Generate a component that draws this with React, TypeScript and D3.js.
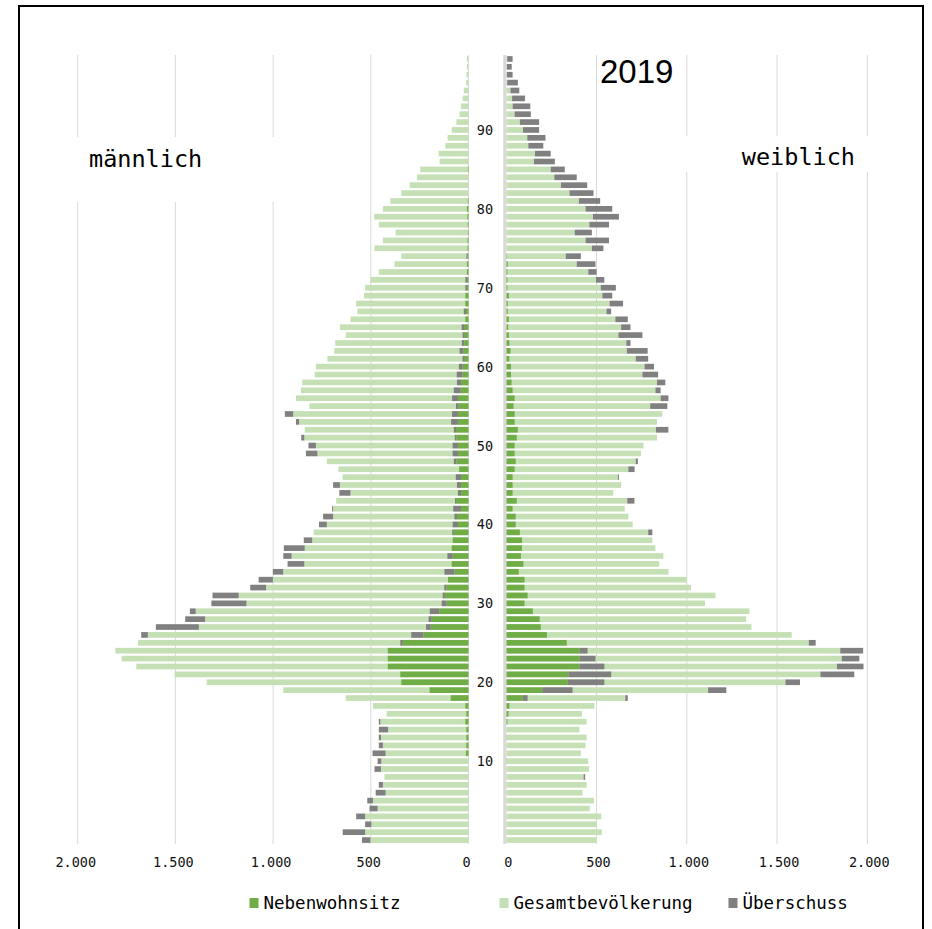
import React from 'react';
import * as d3 from 'd3';

// ages 0..99
const ages = d3.range(0, 100);

// männlich
const maleGesamt = [
  502, 529, 497, 529, 465, 489, 424, 438, 430, 448,
  446, 424, 438, 448, 411, 451, 419, 489, 628, 948,
  1340, 1504, 1700, 1775, 1807, 1692, 1641, 1380, 1348, 1396,
  1136, 1176, 1036, 1001, 948, 840, 905, 838, 800, 792,
  725, 693, 693, 677, 604, 658, 644, 666, 725, 773,
  781, 840, 838, 867, 897, 814, 883, 857, 851, 787,
  781, 722, 687, 682, 628, 658, 604, 569, 575, 534,
  529, 502, 459, 379, 344, 481, 438, 373, 459, 483,
  438, 400, 344, 301, 263, 247, 148, 153, 118, 107,
  86, 62, 46, 38, 30, 24, 12, 10, 8, 8,
];
const maleUeber = [
  43, 115, 32, 46, 42, 29, 51, 21, 0, 33,
  19, 67, 21, 11, 48, 8, 0, 0, 0, 0,
  0, 0, 0, 0, 0, 0, 34, 220, 102, 30,
  180, 134, 81, 73, 53, 86, 43, 107, 43, 0,
  40, 51, 5, 0, 57, 35, 0, 0, 0, 59,
  38, 16, 0, 16, 43, 0, 0, 0, 0, 0,
  0, 0, 0, 0, 0, 0, 0, 0, 0, 0,
  0, 0, 0, 0, 0, 0, 0, 0, 0, 0,
  0, 0, 0, 0, 0, 0, 0, 0, 0, 0,
  0, 0, 0, 0, 0, 0, 0, 0, 0, 0,
];
const maleNeben = [
  0, 0, 0, 0, 0, 0, 0, 0, 0, 0,
  0, 13, 11, 11, 11, 16, 11, 16, 91, 199,
  344, 349, 413, 413, 413, 336, 231, 193, 188, 150,
  113, 121, 113, 105, 72, 86, 81, 86, 81, 75,
  54, 59, 38, 64, 38, 38, 38, 48, 62, 54,
  54, 62, 64, 54, 54, 51, 54, 40, 38, 30,
  30, 19, 27, 21, 19, 19, 16, 13, 16, 16,
  8, 8, 8, 8, 5, 5, 5, 3, 4, 6,
  8, 3, 0, 0, 0, 3, 0, 0, 0, 0,
  0, 0, 0, 0, 0, 0, 0, 0, 0, 0,
];
const maleNebenUeber = [
  0, 0, 0, 0, 0, 0, 0, 0, 0, 0,
  0, 0, 0, 0, 0, 0, 0, 0, 0, 0,
  0, 0, 0, 0, 0, 13, 62, 24, 16, 48,
  24, 11, 11, 0, 51, 0, 27, 0, 0, 8,
  27, 13, 40, 5, 16, 21, 27, 0, 13, 27,
  27, 8, 11, 35, 30, 13, 30, 35, 21, 30,
  19, 11, 19, 13, 11, 16, 0, 11, 0, 0,
  8, 8, 0, 0, 5, 0, 0, 0, 0, 0,
  0, 0, 0, 0, 0, 0, 0, 0, 0, 0,
  0, 0, 0, 0, 0, 0, 0, 0, 0, 0,
];

// weiblich
const femaleGesamt = [
  500, 529, 500, 526, 462, 486, 422, 445, 428, 459,
  454, 413, 439, 445, 405, 445, 419, 488, 659, 1118,
  1546, 1740, 1832, 1858, 1850, 1676, 1581, 1358, 1329, 1347,
  1101, 1159, 1023, 1000, 899, 847, 870, 826, 809, 786,
  700, 676, 656, 670, 592, 636, 618, 676, 717, 746,
  760, 835, 829, 835, 864, 797, 855, 826, 835, 754,
  766, 717, 668, 665, 621, 636, 604, 555, 572, 532,
  523, 497, 454, 390, 329, 474, 439, 379, 460, 480,
  439, 402, 350, 303, 266, 246, 153, 159, 122, 116,
  92, 75, 46, 35, 32, 23, 5, 3, 3, 5,
];
const femaleUeber = [
  0, 0, 0, 0, 0, 0, 0, 0, 9, 0,
  0, 0, 0, 0, 0, 0, 0, 0, 14, 101,
  81, 188, 147, 98, 127, 38, 0, 0, 0, 0,
  0, 0, 0, 0, 0, 0, 0, 0, 0, 23,
  0, 0, 0, 40, 0, 0, 6, 35, 12, 0,
  0, 0, 69, 0, 0, 95, 43, 29, 46, 87,
  52, 69, 115, 23, 133, 52, 69, 26, 75, 55,
  84, 46, 46, 104, 84, 64, 130, 95, 109, 144,
  148, 118, 133, 145, 124, 78, 116, 87, 83, 101,
  90, 107, 90, 98, 72, 49, 59, 32, 27, 30,
];
const femaleNeben = [
  0, 0, 0, 0, 0, 0, 0, 0, 0, 0,
  2, 0, 0, 2, 0, 6, 12, 17, 92, 199,
  341, 344, 407, 407, 407, 335, 225, 191, 185, 147,
  101, 118, 101, 101, 69, 95, 81, 87, 87, 75,
  52, 52, 35, 58, 35, 35, 35, 46, 52, 46,
  46, 58, 64, 46, 46, 40, 46, 35, 29, 26,
  26, 17, 23, 17, 14, 10, 14, 8, 8, 14,
  6, 6, 6, 8, 3, 0, 0, 0, 0, 0,
  0, 0, 0, 0, 0, 0, 0, 0, 0, 0,
  0, 0, 0, 0, 0, 0, 0, 0, 0, 0,
];
const femaleNebenUeber = [
  0, 0, 0, 0, 0, 0, 0, 0, 0, 0,
  0, 0, 0, 0, 0, 0, 0, 0, 26, 168,
  202, 237, 136, 87, 43, 0, 0, 0, 0, 0,
  0, 0, 0, 0, 0, 0, 0, 0, 0, 0,
  0, 0, 0, 0, 0, 0, 0, 0, 0, 0,
  0, 0, 0, 0, 0, 0, 0, 0, 0, 0,
  0, 0, 0, 0, 0, 0, 0, 0, 0, 0,
  0, 0, 0, 0, 0, 0, 0, 0, 0, 0,
  0, 0, 0, 0, 0, 0, 0, 0, 0, 0,
  0, 0, 0, 0, 0, 0, 0, 0, 0, 0,
];

const tickValues = [0, 500, 1000, 1500, 2000];
const tickLabels = ['0', '500', '1.000', '1.500', '2.000'];
const ageLabels = [10, 20, 30, 40, 50, 60, 70, 80, 90];
const legendNames = ['Nebenwohnsitz', 'Gesamtbevölkerung', 'Überschuss'];

const DARK = '#70AD47';
const LIGHT = '#C5E0B4';
const GREY = '#808080';
const GRID = '#D9D9D9';
const MONO = "'DejaVu Sans Mono', 'Liberation Mono', monospace";

export default function App() {
  const top = 55;
  const bottom = 844;
  const xL = d3.scaleLinear().domain([0, 2000]).range([468.5, 77.7]);
  const xR = d3.scaleLinear().domain([0, 2000]).range([506.3, 867.3]);
  const y = d3.scaleBand<number>()
    .domain([...ages].reverse())
    .range([top, bottom])
    .paddingInner(0.28)
    .paddingOuter(0.14);
  const bh = y.bandwidth();

  const segL = (a: number, b: number, fill: string, key: string, age: number) =>
    b > a ? <rect key={key} x={xL(b)} y={y(age)} width={xL(a) - xL(b)} height={bh} fill={fill} /> : null;
  const segR = (a: number, b: number, fill: string, key: string, age: number) =>
    b > a ? <rect key={key} x={xR(a)} y={y(age)} width={xR(b) - xR(a)} height={bh} fill={fill} /> : null;

  const legendX = [249.5, 499.5, 728.5];

  return (
    <svg width={932} height={929} style={{ position: 'absolute', left: 0, top: 0, background: '#fff' }}>
      <rect x={0} y={0} width={932} height={929} fill="#fff" />

      {/* gridlines */}
      {tickValues.map(v => (
        <line key={'gl' + v} x1={xL(v)} x2={xL(v)} y1={top} y2={bottom} stroke={GRID} strokeWidth={1} />
      ))}
      {tickValues.filter(v => v > 0).map(v => (
        <line key={'gr' + v} x1={xR(v)} x2={xR(v)} y1={top} y2={bottom} stroke={GRID} strokeWidth={1} />
      ))}

      {/* label boxes hide the gridlines */}
      <rect x={76} y={137} width={224} height={65} fill="#fff" />
      <rect x={640} y={136} width={235} height={36} fill="#fff" />

      {/* male bars */}
      {ages.map(a => (
        <g key={'m' + a}>
          {segL(0, maleGesamt[a], LIGHT, 'g', a)}
          {segL(maleGesamt[a], maleGesamt[a] + maleUeber[a], GREY, 'u', a)}
          {segL(0, maleNeben[a], DARK, 'n', a)}
          {segL(maleNeben[a], maleNeben[a] + maleNebenUeber[a], GREY, 'nu', a)}
        </g>
      ))}

      {/* female bars */}
      {ages.map(a => (
        <g key={'f' + a}>
          {segR(0, femaleGesamt[a], LIGHT, 'g', a)}
          {segR(femaleGesamt[a], femaleGesamt[a] + femaleUeber[a], GREY, 'u', a)}
          {segR(0, femaleNeben[a], DARK, 'n', a)}
          {segR(femaleNeben[a], femaleNeben[a] + femaleNebenUeber[a], GREY, 'nu', a)}
        </g>
      ))}

      {/* female axis line */}
      <line x1={xR(0) - 1.5} x2={xR(0) - 1.5} y1={top} y2={bottom} stroke={GRID} strokeWidth={3} />

      {/* age labels */}
      {ageLabels.map(a => (
        <text key={'age' + a} x={485} y={(y(a) ?? 0) + bh / 2} textAnchor="middle" dominantBaseline="central"
          fontFamily={MONO} fontSize={13.5} fill="#111">{a}</text>
      ))}

      {/* tick labels */}
      {tickValues.map((v, i) => (
        <text key={'tl' + v} x={xL(v) - 2} y={867} textAnchor="middle" fontFamily={MONO} fontSize={13.5} fill="#111">
          {tickLabels[i]}
        </text>
      ))}
      {tickValues.map((v, i) => (
        <text key={'tr' + v} x={xR(v) + 2} y={867} textAnchor="middle" fontFamily={MONO} fontSize={13.5} fill="#111">
          {tickLabels[i]}
        </text>
      ))}

      {/* titles */}
      <text x={600} y={83} fontFamily="'Liberation Sans', Arial, sans-serif" fontSize={33} fill="#000">2019</text>
      <text x={89} y={167} fontFamily={MONO} fontSize={23.5} fill="#000">männlich</text>
      <text x={855} y={165} textAnchor="end" fontFamily={MONO} fontSize={23.5} fill="#000">weiblich</text>

      {/* legend */}
      {legendNames.map((name, i) => (
        <g key={name}>
          <rect x={legendX[i]} y={898} width={9} height={10} fill={[DARK, LIGHT, GREY][i]} />
          <text x={legendX[i] + 14} y={909} fontFamily={MONO} fontSize={17.5} fill="#000">{name}</text>
        </g>
      ))}

      {/* outer border */}
      <rect x={19} y={6} width={904} height={940} fill="none" stroke="#000" strokeWidth={2} />
    </svg>
  );
}
